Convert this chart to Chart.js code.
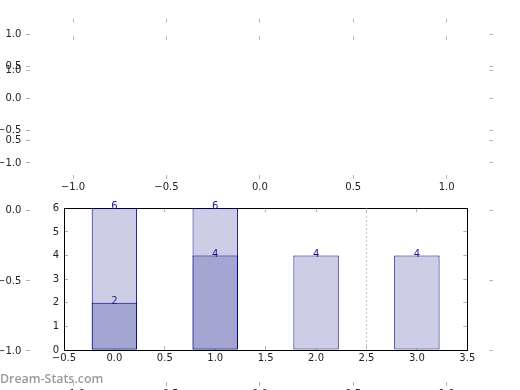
<!DOCTYPE html>
<html>
<head>
<meta charset="utf-8">
<script src="https://cdn.jsdelivr.net/npm/chart.js@4.4.0/dist/chart.umd.min.js"></script>
<style>
  body { margin: 0; background: #fff; }
  #wrap { position: relative; width: 520px; height: 390px; overflow: hidden; }
  #wrap canvas { position: absolute; left: 0; top: 0; }
  #mark { position: absolute; left: 0; top: 373px; font: 600 12.4px/12px "Open Sans"; color: #9a9a9a; }
</style>
</head>
<body>
<div id="wrap">
  <canvas id="pie-top" width="520" height="390"></canvas>
  <canvas id="pie-big" width="520" height="390"></canvas>
  <canvas id="bars" width="520" height="390"></canvas>
  <div id="mark">Dream-Stats.com</div>
</div>
<script>
// Data

const barPositions = [0, 1, 2, 3];
const totalValues = [6, 6, 4, 4];
const partPositions = [0, 1];
const partValues = [2, 4];
const dividerAt = 2.5;

const barXTicks = [-0.5, 0, 0.5, 1, 1.5, 2, 2.5, 3, 3.5];
const barYTicks = [0, 1, 2, 3, 4, 5, 6];
const pieTicks = [-1, -0.5, 0, 0.5, 1];

// Helpers

const fmt1 = v => (v < 0 ? '\u2212' : '') + Math.abs(v).toFixed(1);
const fmt0 = v => String(v);
const setTicks = list => scale => { scale.ticks = list.map(v => ({ value: v })); };

// size = room kept for the labels (the labels are clipped to it)
function axis(position, min, max, tickList, fmt, border, size) {
  const horizontal = position === 'top' || position === 'bottom';
  const labelled = position === 'left' || position === 'bottom';
  return {
    type: 'linear',
    axis: horizontal ? 'x' : 'y',
    position: position,
    min: min,
    max: max,
    offset: false,
    z: 1,
    afterBuildTicks: setTicks(tickList),
    afterFit: s => {
        if (horizontal) s.height = size || 0; else s.width = size || 0;
        s.paddingTop = s.paddingBottom = s.paddingLeft = s.paddingRight = 0;
    },
    grid: { drawOnChartArea: false, tickLength: -4, color: '#b4b4b4', offset: false },
    border: { display: border, color: '#000', width: 1 },
    ticks: {
        display: labelled,
        color: '#222',
        font: { family: 'DejaVu Sans', size: 10 },
        padding: horizontal ? 6 : 9,
        maxRotation: 0,
        autoSkip: false,
        callback: fmt
    }
  };
}

const baseOptions = {
    responsive: false,
    animation: false,
    events: [],
    plugins: { legend: { display: false }, tooltip: { enabled: false } }
};

// Empty pie-style axes behind the bars

function pieAxes(canvasId, padding, bottomRoom) {
    return new Chart(document.getElementById(canvasId), {
        type: 'scatter',
        data: { datasets: [] },
        options: Object.assign({}, baseOptions, {
            layout: { padding: padding },
            scales: {
                x: axis('bottom', -1.25, 1.25, pieTicks, fmt1, false, bottomRoom),
                x2: axis('top', -1.25, 1.25, pieTicks, fmt1, false),
                y: axis('left', -1.25, 1.25, pieTicks, fmt1, false, 26.3),
                y2: axis('right', -1.25, 1.25, pieTicks, fmt1, false)
            }
        })
    });
}

pieAxes('pie-top', { left: 0, right: 26.6, top: 18.6, bottom: 191 }, 20);
pieAxes('pie-big', { left: 0, right: 26.6, top: 35.7, bottom: 0 }, 4);

// Bar chart

const barLabels = {
    id: 'barLabels',
    afterDatasetsDraw(chart) {
        const ctx = chart.ctx;
        ctx.save();
        ctx.font = '10px "DejaVu Sans"';
        ctx.fillStyle = '#1c1c8c';
        ctx.textAlign = 'center';
        ctx.textBaseline = 'alphabetic';
        chart.data.datasets.forEach((ds, i) => {
            if (ds.type === 'line') return;
            chart.getDatasetMeta(i).data.forEach((bar, j) => {
                ctx.fillText(String(ds.data[j].y), bar.x, bar.y + 1);
            });
        });
        ctx.restore();
    }
};

// the bar ruler uses the 0.5 tick spacing, so 0.9 of it = 0.45 units
const barStyle = {
    borderColor: '#000080',
    borderWidth: 1,
    borderSkipped: false,
    grouped: false,
    barPercentage: 0.9,
    categoryPercentage: 1
};

let barChart = new Chart(document.getElementById('bars'), {
    type: 'bar',
    data: {
        datasets: [
            Object.assign({
                data: partPositions.map((x, i) => ({ x: x, y: partValues[i] })),
                backgroundColor: '#a4a6d2',
                order: 1
            }, barStyle),
            Object.assign({
                data: barPositions.map((x, i) => ({ x: x, y: totalValues[i] })),
                backgroundColor: '#cdcde5',
                order: 2
            }, barStyle),
            {
                type: 'line',
                data: [{ x: dividerAt, y: barYTicks[0] }, { x: dividerAt, y: barYTicks[barYTicks.length - 1] }],
                borderColor: '#c8c8c8',
                borderWidth: 1,
                borderDash: [2, 2],
                pointRadius: 0,
                order: 3
            }
        ]
    },
    options: Object.assign({}, baseOptions, {
        layout: { padding: { left: 34, right: 52.7, top: 208.3, bottom: 20 } },
        scales: {
            x: axis('bottom', -0.5, 3.5, barXTicks, fmt1, true, 20),
            x2: axis('top', -0.5, 3.5, barXTicks, fmt1, true),
            y: axis('left', 0, 6, barYTicks, fmt0, true, 30),
            y2: axis('right', 0, 6, barYTicks, fmt0, true)
        }
    }),
    plugins: [barLabels]
});
</script>
</body>
</html>
